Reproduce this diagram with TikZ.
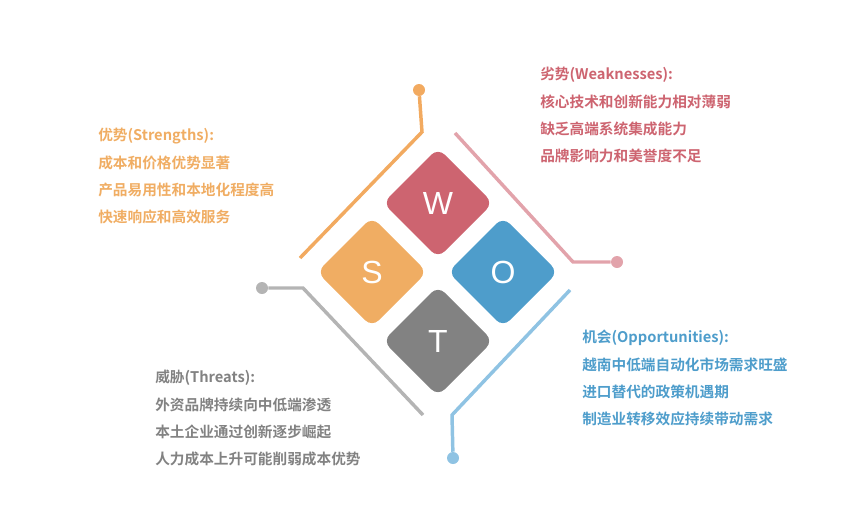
\documentclass[tikz,border=0pt]{standalone}
\usepackage{fontspec}
\setmainfont{Liberation Sans}
\newfontfamily\cjk{Noto Sans CJK SC Bold}
\begin{document}
\begin{tikzpicture}[x=0.75pt,y=-0.75pt,
 ctxt/.style={font=\cjk\fontsize{11}{20.5}\selectfont,align=left,anchor=north west,inner sep=0pt},
 letter/.style={text=white,font=\fontsize{24}{24}\selectfont},
 conn/.style={line width=2.6pt},
 dotc/.style={circle,inner sep=0pt,minimum size=9pt}]
\definecolor{cS}{HTML}{F0AD63}\definecolor{cW}{HTML}{CD6470}
\definecolor{cO}{HTML}{4E9DCB}\definecolor{cT}{HTML}{828282}
\definecolor{lS}{HTML}{F2AA60}\definecolor{lW}{HTML}{E2A3AB}
\definecolor{lO}{HTML}{8FC3E3}\definecolor{lT}{HTML}{B4B4B4}
\useasboundingbox (0,0) rectangle (860,525);
\foreach \n/\x/\y/\c in {W/438/203/cW,S/372/272/cS,O/503/272/cO,T/438/341/cT}{
 \fill[\c,rounded corners=7pt] (\x,\y-55) -- (\x+55,\y) -- (\x,\y+55) -- (\x-55,\y) -- cycle;
 \node[letter] (\n) at (\x,\y) {\n};
}
% connectors
\node[dotc,fill=lS] (dS) at (419,90) {};
\coordinate (kS) at (422,132); \coordinate (eS) at (300,258);
\draw[conn,lS] (dS) -- (kS) -- (eS);
\node[dotc,fill=lW] (dW) at (617,262) {};
\coordinate (kW) at (573,262); \coordinate (eW) at (455,133);
\draw[conn,lW] (dW) -- (kW) -- (eW);
\node[dotc,fill=lT] (dT) at (262,288) {};
\coordinate (kT) at (303,288); \coordinate (eT) at (423,415);
\draw[conn,lT] (dT) -- (kT) -- (eT);
\node[dotc,fill=lO] (dO) at (453,458) {};
\coordinate (kO) at (452,415); \coordinate (eO) at (570,290);
\draw[conn,lO] (dO) -- (kO) -- (eO);
% texts
\node[ctxt,text=cS] (tS) at (98,128) {优势(Strengths):\\成本和价格优势显著\\产品易用性和本地化程度高\\快速响应和高效服务};
\node[ctxt,text=cW] (tW) at (540,67) {劣势(Weaknesses):\\核心技术和创新能力相对薄弱\\缺乏高端系统集成能力\\品牌影响力和美誉度不足};
\node[ctxt,text=cO] (tO) at (582,330) {机会(Opportunities):\\越南中低端自动化市场需求旺盛\\进口替代的政策机遇期\\制造业转移效应持续带动需求};
\node[ctxt,text=cT] (tT) at (155,370) {威胁(Threats):\\外资品牌持续向中低端渗透\\本土企业通过创新逐步崛起\\人力成本上升可能削弱成本优势};
\end{tikzpicture}
\end{document}
